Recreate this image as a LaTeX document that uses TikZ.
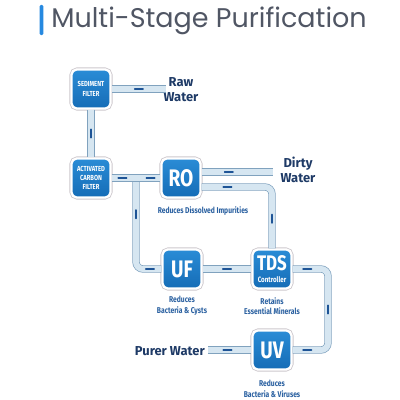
\documentclass[tikz,border=0pt]{standalone}
\usepackage{fontspec}
\usepackage{tikz}
\usetikzlibrary{shapes,arrows,positioning,calc,decorations.markings}
\newfontfamily\titlefont{Poppins}
\newfontfamily\labelfont{Fira Sans}
\newfontfamily\narrowfont[FakeStretch=0.8]{Fira Sans}
\definecolor{titleblue}{RGB}{38,137,224}
\definecolor{titlegray}{RGB}{80,86,100}
\definecolor{filterblue}{RGB}{21,108,182}
\definecolor{filtertop}{RGB}{42,140,214}
\definecolor{framegray}{RGB}{205,200,205}
\definecolor{pipeedge}{RGB}{128,162,190}
\definecolor{pipefill}{RGB}{214,230,241}
\definecolor{flowblue}{RGB}{30,84,150}
\definecolor{navy}{RGB}{30,58,102}
\definecolor{labelblue}{RGB}{42,96,160}

\begin{document}
\begin{tikzpicture}[x=0.025cm, y=-0.025cm,
    filter/.style={rectangle, rounded corners=4pt, minimum size=0.98cm, inner sep=0pt,
        align=center, text=white, top color=filtertop, bottom color=filterblue,
        draw=white, line width=1.6pt, preaction={draw=framegray, line width=2.8pt},
        font=\narrowfont\bfseries\fontsize{17}{18}\selectfont},
    tinytext/.style={font=\narrowfont\bfseries\fontsize{5.2}{6.6}\selectfont},
    pipe/.style={draw=pipeedge, line width=0.5pt, double=pipefill, double distance=4.2pt,
        rounded corners=5pt},
    flowmark/.style={draw=flowblue, line width=1.1pt, line cap=round},
    flow/.style={postaction={decorate, decoration={markings,
        mark=at position #1 with {\draw[flowmark] (-3pt,0) -- (3pt,0);}}}},
    bigtext/.style={text=navy, font=\labelfont\bfseries\fontsize{9.2}{10.6}\selectfont, align=center, inner sep=0pt},
    note/.style={text=labelblue, font=\narrowfont\bfseries\fontsize{6}{7.5}\selectfont, align=center, inner sep=0pt}]
    \useasboundingbox (0,0) rectangle (400,400);

    % Title
    \node[fill=titleblue, rounded corners=0.8pt, minimum width=2.6pt, minimum height=0.75cm, inner sep=0pt] (bar) at (41.5,20) {};
    \node[anchor=west, text=titlegray, font=\titlefont\fontsize{19.2}{22}\selectfont, inner sep=0pt] (title) at (51,21) {Multi-Stage Purification};

    % Filters
    \node[filter, tinytext] (sed) at (91,89) {SEDIMENT\\FILTER};
    \node[filter, tinytext] (carbon) at (91,178) {ACTIVATED\\CARBON\\FILTER};
    \node[filter] (ro) at (181,178) {RO};
    \node[filter] (uf) at (182,269) {UF};
    \node[filter, font=\narrowfont\bfseries\fontsize{15}{8.5}\selectfont] (tds) at (272,269) {TDS\\{\fontsize{5.5}{6}\selectfont Controller}};
    \node[filter] (uv) at (272,350) {UV};

    % Texts
    \node[bigtext] (raw) at (181,90) {Raw\\Water};
    \node[bigtext] (dirty) at (298,170) {Dirty\\Water};
    \node[bigtext, anchor=east] (purer) at (205,351) {Purer Water};
    \node[note] (rotext) at (203,211) {Reduces Dissolved Impurities};
    \node[note] (uftext) at (182,306) {Reduces\\Bacteria \& Cysts};
    \node[note] (tdstext) at (272,306) {Retains\\Essential Minerals};
    \node[note] (uvtext) at (272,389) {Reduces\\Bacteria \& Viruses};

    % Pipe points
    \coordinate (rawin) at (166,89);
    \coordinate (tee) at (136,178);
    \coordinate (dirtyout) at (273,172);
    \coordinate (rolow) at (272,187);
    \coordinate (bendtop) at (328,269);
    \coordinate (bendbot) at (328,350);
    \coordinate (pureout) at (208,350);

    % Pipes
    \draw[pipe, flow=0.5] (rawin) -- (sed);
    \draw[pipe, flow=0.5] (sed) -- (carbon);
    \draw[pipe, flow=0.32, flow=0.9] (tee) -- (tee |- uf) -- (uf);
    \draw[pipe, flow=0.22, flow=0.8] (carbon) -- (ro);
    \draw[pipe, flow=0.38] (ro.east |- dirtyout) -- (dirtyout);
    \draw[pipe, flow=0.2, flow=0.77] (ro.east |- rolow) -- (rolow) -- (tds);
    \draw[pipe, flow=0.5] (uf) -- (tds);
    \draw[pipe, flow=0.1, flow=0.5, flow=0.9] (tds) -- (bendtop) -- (bendbot) -- (uv);
    \draw[pipe, flow=0.55] (uv) -- (pureout);
\end{tikzpicture}
\end{document}
